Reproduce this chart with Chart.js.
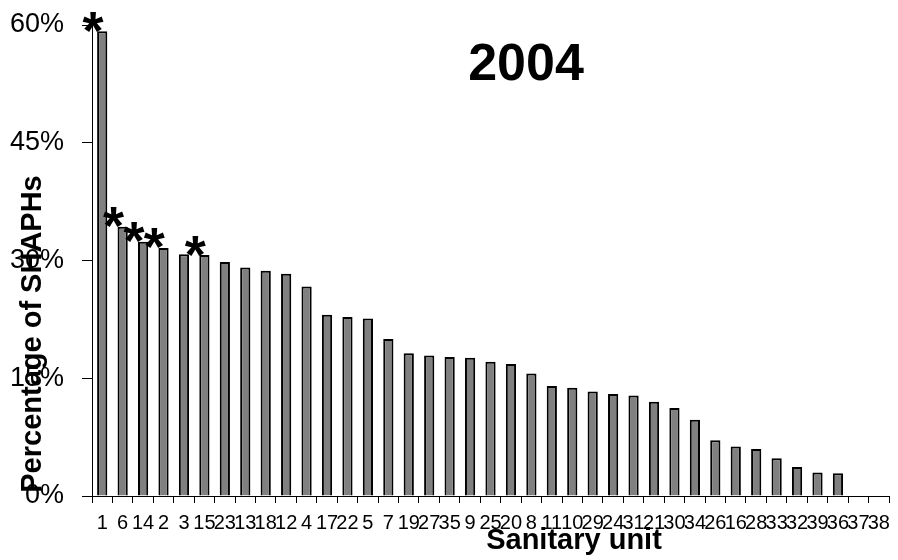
<!DOCTYPE html>
<html>
<head>
<meta charset="utf-8">
<script src="https://cdn.jsdelivr.net/npm/chart.js@4/dist/chart.umd.min.js"></script>
<style>
  html, body { margin: 0; padding: 0; background: #fff; }
  canvas { display: block; }
</style>
</head>
<body>
<canvas id="c" width="898" height="560"></canvas>
<script>
// Sanitary units, ordered by share of SHAPHs (2004)
const units = ['1','6','14','2','3','15','23','13','18','12','4','17','22','5','7','19','27','35','9','25',
               '20','8','11','10','29','24','31','21','30','34','26','16','28','33','32','39','36','37','38'];
const shares = [59.2, 34.3, 32.4, 31.6, 30.8, 30.7, 29.8, 29.1, 28.7, 28.3, 26.7, 23.1, 22.8, 22.6, 20.0,
                18.2, 17.9, 17.7, 17.6, 17.1, 16.8, 15.6, 14.0, 13.8, 13.3, 13.0, 12.8, 12.0, 11.2, 9.7,
                7.1, 6.3, 6.0, 4.8, 3.7, 3.0, 2.9, null, null];
// Units flagged with an asterisk
const flagged = ['1','6','14','2','15'];
const yTicks = [0, 15, 30, 45, 60];

const FONT = '"Liberation Sans", Arial, sans-serif';

const annotations = {
  id: 'annotations',
  afterDatasetsDraw(chart) {
    const { ctx, scales: { x, y } } = chart;
    ctx.save();
    ctx.fillStyle = '#000';
    // asterisks above flagged bars
    ctx.font = 'bold 54px ' + FONT;
    ctx.textAlign = 'center';
    ctx.textBaseline = 'alphabetic';
    const m = ctx.measureText('*');
    const mid = (m.actualBoundingBoxAscent - m.actualBoundingBoxDescent) / 2;
    const step = x.getPixelForValue(1) - x.getPixelForValue(0);
    flagged.forEach(u => {
      const i = units.indexOf(u);
      const px = x.getPixelForValue(i) - step * 0.45;
      const py = y.getPixelForValue(shares[i]) - 9;
      ctx.fillText('*', px, py + mid);
    });
    // chart title inside the plot
    ctx.font = 'bold 52px ' + FONT;
    ctx.textBaseline = 'middle';
    ctx.fillText('2004', 526, 66);
    // axis titles
    ctx.font = 'bold 29px ' + FONT;
    ctx.fillText('Sanitary unit', 574, 541);
    ctx.translate(33, 334);
    ctx.rotate(-Math.PI / 2);
    ctx.fillText('Percentage of SHAPHs', 0, 0);
    ctx.restore();
  }
};

new Chart(document.getElementById('c'), {
  type: 'bar',
  data: {
    labels: units,
    datasets: [{
      data: shares,
      backgroundColor: '#808080',
      borderColor: '#000',
      borderWidth: 2,
      categoryPercentage: 1,
      barPercentage: 0.5
    }]
  },
  options: {
    responsive: false,
    animation: false,
    devicePixelRatio: 1,
    layout: { padding: { left: 0, right: 5, top: 25, bottom: 0 } },
    plugins: { legend: { display: false }, tooltip: { enabled: false }, title: { display: false } },
    scales: {
      x: {
        grid: { drawOnChartArea: false, drawTicks: true, tickLength: 7, color: '#000', offset: true },
        border: { display: true, color: '#000', width: 1 },
        ticks: {
          autoSkip: false, maxRotation: 0, minRotation: 0, padding: 8,
          color: '#000', font: { family: FONT, size: 20 }
        },
        afterFit(scale) { scale.height = 64; }
      },
      y: {
        min: 0, max: 60,
        afterBuildTicks(scale) { scale.ticks = yTicks.map(v => ({ value: v })); },
        grid: { drawOnChartArea: false, drawTicks: true, tickLength: 10, color: '#000' },
        border: { display: true, color: '#000', width: 1 },
        ticks: {
          padding: 18, color: '#000', font: { family: FONT, size: 27 },
          callback: v => v + '%'
        },
        afterFit(scale) {
          scale.width = 92;
          scale.paddingTop = 0;
          scale.paddingBottom = 0;
        }
      }
    }
  },
  plugins: [annotations]
});
</script>
</body>
</html>
